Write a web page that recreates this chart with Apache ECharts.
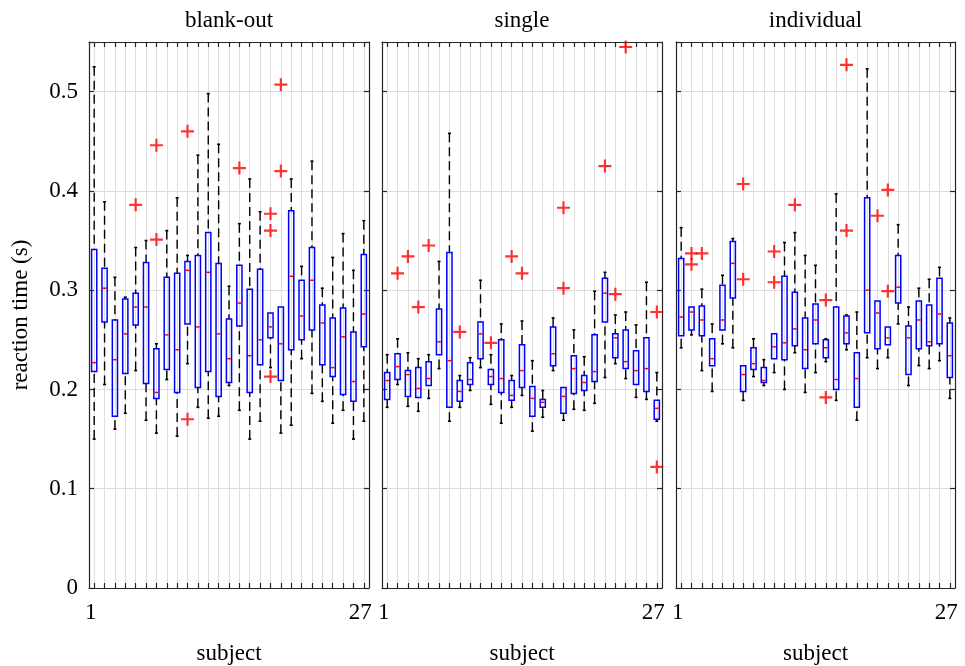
<!DOCTYPE html>
<html><head><meta charset="utf-8">
<script src="https://cdn.jsdelivr.net/npm/echarts@6/dist/echarts.min.js"></script>
<style>html,body{margin:0;padding:0;background:#fff}#c{width:965px;height:666px}</style>
</head><body><div id="c"></div>
<script>
// ---- data ----
const subjects = ['1','2','3','4','5','6','7','8','9','10','11','12','13','14','15','16','17','18','19','20','21','22','23','24','25','26','27'];
const panelTitles = ['blank-out', 'single', 'individual'];
const xTickLabels = ['1', '27'];
const yTickValues = [0, 0.1, 0.2, 0.3, 0.4, 0.5];
const xAxisTitle = 'subject';
const yAxisTitle = 'reaction time (s)';

// [lower whisker, q1, median, q3, upper whisker] per subject
const blankOutStats = [
  [0.150,0.218,0.227,0.341,0.525],[0.205,0.268,0.302,0.322,0.389],[0.160,0.173,0.230,0.270,0.313],
  [0.176,0.216,0.256,0.291,0.293],[0.219,0.265,0.283,0.297,0.343],[0.169,0.206,0.283,0.328,0.350],
  [0.156,0.191,0.197,0.241,0.246],[0.210,0.220,0.255,0.313,0.360],[0.153,0.197,0.240,0.317,0.393],
  [0.226,0.266,0.320,0.329,0.335],[0.182,0.202,0.263,0.335,0.436],[0.171,0.218,0.318,0.358,0.498],
  [0.173,0.193,0.256,0.327,0.447],[0.204,0.207,0.231,0.271,0.304],[0.179,0.264,0.287,0.325,0.367],
  [0.150,0.197,0.234,0.301,0.412],[0.168,0.225,0.250,0.321,0.379],[0.222,0.252,0.263,0.277,0.277],
  [0.156,0.209,0.246,0.283,0.283],[0.164,0.240,0.314,0.380,0.412],[0.231,0.250,0.274,0.310,0.324],
  [0.196,0.260,0.310,0.343,0.430],[0.188,0.225,0.267,0.285,0.302],[0.166,0.213,0.222,0.272,0.333],
  [0.179,0.195,0.253,0.282,0.357],[0.150,0.188,0.208,0.258,0.320],[0.168,0.243,0.276,0.336,0.370]
];
const singleStats = [
  [0.182,0.190,0.209,0.217,0.235],[0.205,0.210,0.223,0.236,0.251],[0.183,0.193,0.215,0.219,0.237],
  [0.178,0.192,0.201,0.222,0.231],[0.191,0.204,0.211,0.228,0.235],[0.221,0.235,0.248,0.281,0.329],
  [0.168,0.182,0.229,0.338,0.458],[0.182,0.188,0.198,0.209,0.214],[0.199,0.205,0.210,0.227,0.232],
  [0.222,0.231,0.256,0.268,0.310],[0.185,0.205,0.213,0.220,0.235],[0.166,0.197,0.211,0.250,0.266],
  [0.182,0.189,0.194,0.209,0.214],[0.194,0.202,0.219,0.245,0.269],[0.158,0.173,0.191,0.203,0.229],
  [0.172,0.182,0.187,0.190,0.199],[0.219,0.224,0.236,0.263,0.272],[0.169,0.176,0.193,0.202,0.202],
  [0.180,0.196,0.221,0.234,0.260],[0.179,0.199,0.207,0.214,0.233],[0.186,0.208,0.218,0.255,0.299],
  [0.212,0.268,0.297,0.312,0.318],[0.226,0.232,0.252,0.256,0.275],[0.211,0.221,0.228,0.260,0.278],
  [0.192,0.205,0.219,0.239,0.265],[0.190,0.198,0.221,0.252,0.308],[0.168,0.170,0.181,0.189,0.217]
];
const individualStats = [
  [0.242,0.254,0.273,0.332,0.363],[0.255,0.260,0.278,0.283,0.283],[0.219,0.254,0.270,0.284,0.301],
  [0.198,0.224,0.231,0.251,0.266],[0.246,0.260,0.270,0.305,0.315],[0.242,0.292,0.327,0.349,0.352],
  [0.189,0.198,0.215,0.224,0.224],[0.213,0.220,0.226,0.242,0.251],[0.204,0.207,0.209,0.222,0.230],
  [0.217,0.231,0.243,0.256,0.256],[0.200,0.230,0.247,0.314,0.348],[0.237,0.244,0.261,0.298,0.358],
  [0.197,0.221,0.240,0.272,0.335],[0.217,0.246,0.270,0.286,0.325],[0.228,0.232,0.242,0.250,0.251],
  [0.189,0.200,0.210,0.283,0.397],[0.240,0.246,0.257,0.274,0.275],[0.169,0.182,0.211,0.237,0.278],
  [0.232,0.257,0.300,0.393,0.523],[0.221,0.241,0.277,0.289,0.289],[0.232,0.245,0.252,0.263,0.263],
  [0.266,0.287,0.303,0.335,0.366],[0.204,0.215,0.252,0.264,0.283],[0.224,0.241,0.270,0.289,0.302],
  [0.221,0.244,0.248,0.285,0.311],[0.229,0.246,0.276,0.312,0.323],[0.191,0.212,0.234,0.267,0.272]
];
// outliers: [subject number, reaction time]
const blankOutOutliers = [[5,0.386],[7,0.446],[7,0.351],[10,0.460],[10,0.170],[15,0.423],[18,0.377],[18,0.360],[18,0.213],[19,0.507],[19,0.420]];
const singleOutliers = [[2,0.317],[3,0.334],[4,0.283],[5,0.345],[8,0.258],[11,0.247],[13,0.334],[14,0.317],[18,0.383],[18,0.302],[22,0.425],[23,0.296],[24,0.545],[27,0.278],[27,0.122]];
const individualOutliers = [[2,0.337],[2,0.326],[3,0.337],[7,0.407],[7,0.311],[10,0.339],[10,0.308],[12,0.386],[15,0.290],[15,0.192],[17,0.527],[17,0.360],[20,0.375],[21,0.401],[21,0.299]];

// ---- chart ----
const FONT = 'Liberation Serif';
const FS = 23;
const panels = [
  {stats: blankOutStats, outliers: blankOutOutliers, left: 89, width: 280},
  {stats: singleStats, outliers: singleOutliers, left: 382, width: 280},
  {stats: individualStats, outliers: individualOutliers, left: 676, width: 279}
];
const TOP = 42, HEIGHT = 546;
const frameColor = '#262626';
const gridColor = '#dedede';
const PLUS = 'path://M5,0 h2 v5 h5 v2 h-5 v5 h-2 v-5 h-5 v-2 h5 z';

function renderBox(params, api) {
  const xi = api.value(0);
  const lo = api.coord([xi, api.value(1)]);
  const q1 = api.coord([xi, api.value(2)]);
  const md = api.coord([xi, api.value(3)]);
  const q3 = api.coord([xi, api.value(4)]);
  const hi = api.coord([xi, api.value(5)]);
  const bw = api.size([1, 0])[0];
  const hw = bw * 0.25;
  const cx = q1[0];
  const dash = {stroke: '#000', lineWidth: 1.4, lineDash: [9, 5], fill: null};
  const cap = {stroke: '#000', lineWidth: 1.6};
  const ch = [];
  if (q3[1] - hi[1] > 0.5) {
    ch.push({type: 'line', shape: {x1: cx, y1: hi[1], x2: cx, y2: q3[1]}, style: dash});
    ch.push({type: 'line', shape: {x1: cx - 1.5, y1: hi[1], x2: cx + 1.5, y2: hi[1]}, style: cap});
  }
  if (lo[1] - q1[1] > 0.5) {
    ch.push({type: 'line', shape: {x1: cx, y1: lo[1], x2: cx, y2: q1[1]}, style: dash});
    ch.push({type: 'line', shape: {x1: cx - 1.5, y1: lo[1], x2: cx + 1.5, y2: lo[1]}, style: cap});
  }
  ch.push({type: 'rect', shape: {x: cx - hw, y: q3[1], width: 2 * hw, height: q1[1] - q3[1]},
           style: {fill: 'rgba(0,0,0,0)', stroke: '#0000ff', lineWidth: 1.5}});
  ch.push({type: 'line', shape: {x1: cx - hw + 0.8, y1: md[1], x2: cx + hw - 0.8, y2: md[1]},
           style: {stroke: '#ff0000', lineWidth: 1.5}});
  return {type: 'group', children: ch};
}

const grid = [], xAxis = [], yAxis = [], series = [], title = [];
panels.forEach((p, k) => {
  grid.push({left: p.left, top: TOP, width: p.width, height: HEIGHT,
             containLabel: false, outerBoundsMode: 'none'});
  title.push({text: panelTitles[k], left: p.left + p.width / 2, top: 9, textAlign: 'center', padding: 0,
              textStyle: {fontFamily: FONT, fontSize: FS, fontWeight: 'normal', color: '#000'}});
  const xBase = {
    type: 'category', data: subjects, gridIndex: k, boundaryGap: true,
    axisLine: {show: true, onZero: false, lineStyle: {color: frameColor, width: 1.2}},
    axisTick: {show: true, inside: true, length: 5, interval: 0, alignWithLabel: true, lineStyle: {color: frameColor, width: 1.2}}
  };
  xAxis.push(Object.assign({}, xBase, {
    position: 'bottom',
    name: xAxisTitle, nameLocation: 'middle', nameGap: 54,
    nameTextStyle: {fontFamily: FONT, fontSize: FS, color: '#000'},
    axisLabel: {show: true, interval: (i, v) => xTickLabels.indexOf(v) >= 0, margin: 13,
                padding: [0, 7, 0, 0],
                fontFamily: FONT, fontSize: FS, color: '#000'},
    splitLine: {show: true, interval: 0, alignWithLabel: true, lineStyle: {color: gridColor, width: 1}}
  }));
  xAxis.push(Object.assign({}, xBase, {
    position: 'top', axisLabel: {show: false}, splitLine: {show: false}
  }));
  const yBase = {
    type: 'value', gridIndex: k, min: 0, max: 0.55, interval: 0.1,
    axisLine: {show: true, onZero: false, lineStyle: {color: frameColor, width: 1.2}},
    axisTick: {show: true, inside: true, length: 5, lineStyle: {color: frameColor, width: 1.2}}
  };
  yAxis.push(Object.assign({}, yBase, {
    position: 'left',
    name: k === 0 ? yAxisTitle : '', nameLocation: 'middle', nameGap: 57, nameRotate: 90,
    nameTextStyle: {fontFamily: FONT, fontSize: FS, color: '#000'},
    axisLabel: {show: k === 0, margin: 11, fontFamily: FONT, fontSize: FS, color: '#000',
                formatter: v => (yTickValues.indexOf(Math.round(v * 10) / 10) >= 0 ? String(Math.round(v * 10) / 10) : '')},
    splitLine: {show: true, lineStyle: {color: gridColor, width: 1}}
  }));
  yAxis.push(Object.assign({}, yBase, {
    position: 'right', axisLabel: {show: false}, splitLine: {show: false}
  }));
  series.push({
    type: 'custom', xAxisIndex: 2 * k, yAxisIndex: 2 * k,
    data: p.stats.map((s, i) => [i, s[0], s[1], s[2], s[3], s[4]]),
    encode: {x: 0, y: [1, 2, 3, 4, 5]},
    renderItem: renderBox, silent: true, clip: false, z: 3
  });
  series.push({
    type: 'scatter', xAxisIndex: 2 * k, yAxisIndex: 2 * k,
    data: p.outliers.map(o => [o[0] - 1, o[1]]),
    symbol: PLUS, symbolSize: 13, itemStyle: {color: '#ff0000'}, silent: true, z: 4
  });
});

const chart = echarts.init(document.getElementById('c'), null, {renderer: 'canvas'});
chart.setOption({animation: false, backgroundColor: '#fff', title, grid, xAxis, yAxis, series});
</script>
</body></html>
